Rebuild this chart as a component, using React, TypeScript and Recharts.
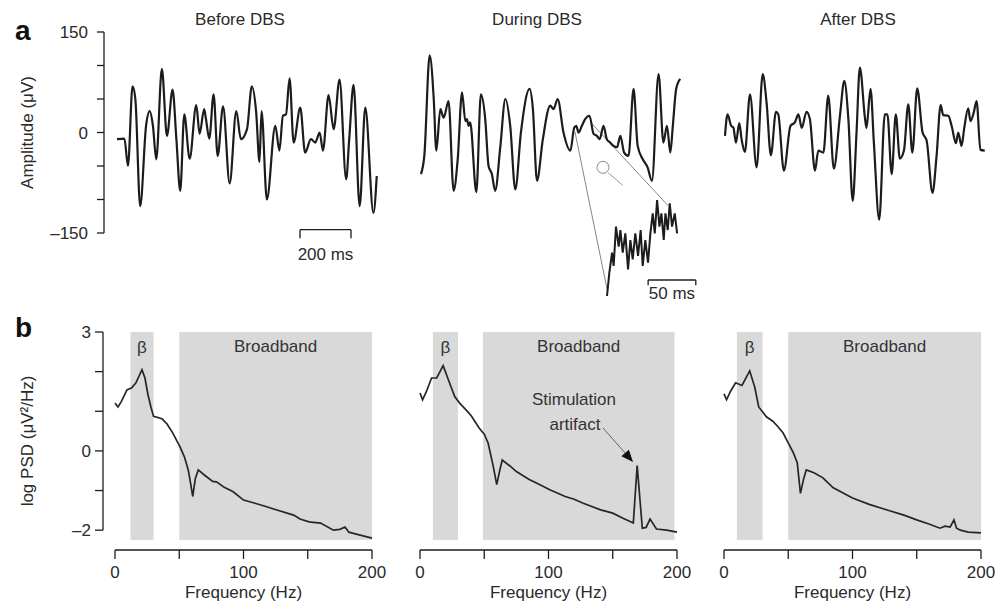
import React from 'react';
import { LineChart, Line, XAxis, YAxis, ReferenceArea, ReferenceLine, ReferenceDot } from 'recharts';

const FONT = '"Liberation Sans", Arial, Helvetica, sans-serif';
const INK = '#1c1c1c';
const TEXT = '#2a2a2a';
const SHADE = '#d9d9d9';

// raw LFP traces, [time ms, amplitude µV]
const BEFORE_DBS: [number, number][] = [
  [0, -10], [29, -9], [43, -50], [61, 69], [72, 50], [91, -110], [114, 10], [128, 32], [141, 10], [154, -40],
  [176, 95], [196, -5], [218, 64], [233, -10], [248, -87], [264, 27], [285, -39], [311, 41], [324, -2], [342, 35],
  [349, 20], [362, -9], [379, 57], [395, -35], [416, 39], [442, -76], [468, 32], [486, -10], [510, 5], [529, 69],
  [546, 30], [559, -44], [567, 32], [588, -100], [621, 10], [637, -27], [651, 25], [663, 27], [677, 81], [693, -15],
  [719, 37], [738, -30], [761, -10], [778, -15], [795, 0], [808, -27], [830, 56], [850, 5], [873, 79], [899, -70],
  [911, -10], [928, 71], [952, -110], [974, 37], [1006, -120], [1019, -65],
];

const DURING_DBS: [number, number][] = [
  [0, -62], [13, -35], [34, 115], [50, 50], [60, -27], [76, 35], [89, 22], [108, 47], [128, -87], [144, -40],
  [161, 60], [174, 17], [180, 20], [187, 10], [193, 15], [217, -89], [235, 57], [252, 20], [265, -50], [278, -62],
  [291, -87], [311, -22], [331, 50], [350, 10], [370, -85], [392, 0], [426, 65], [439, 35], [455, -72], [478, -10],
  [507, 40], [520, 35], [536, 50], [559, 0], [586, -27], [601, 7], [609, 10], [618, 0], [631, 10], [644, 20],
  [661, 25], [677, -2], [690, -5], [701, -10], [716, 10], [729, -10], [742, -15], [755, -20], [769, -22], [782, -5],
  [797, -30], [814, -35], [834, 65], [850, -20], [870, -40], [889, -52], [906, -72], [932, 87], [951, -15], [965, 10],
  [978, -30], [988, 10], [1001, 65], [1017, 80],
];

const AFTER_DBS: [number, number][] = [
  [0, -5], [10, 27], [24, 10], [33, 7], [43, -15], [56, 14], [65, -10], [78, -29], [98, 57], [124, -52],
  [148, 87], [163, 45], [180, -34], [200, 31], [209, 27], [231, -57], [257, 10], [274, 15], [288, 27], [301, 7],
  [320, 31], [333, 20], [353, -57], [366, -27], [386, -30], [405, 55], [427, -54], [451, 25], [468, 77], [484, 20],
  [501, -102], [516, 0], [529, 97], [549, 22], [555, 7], [571, 65], [584, -15], [605, -130], [627, 27], [637, 27],
  [654, -62], [670, 27], [686, -39], [702, -27], [719, 42], [735, -30], [754, 66], [775, 0], [791, -12], [814, -90],
  [830, -35], [846, 41], [856, 26], [876, 25], [889, 10], [906, -16], [915, 0], [928, -20], [938, 5], [954, 36],
  [963, 17], [976, 30], [987, 47], [1002, -26], [1019, -27],
];

// zoomed inset of the stimulation period, [time ms, µV]
const DURING_ZOOM: [number, number][] = [
  [0, -72], [2.5, -37], [5.4, -7], [7.1, -27], [9.6, 32], [12.5, 2], [14.3, 27], [16.8, -7], [19.6, 22], [22.5, -32],
  [25, 12], [27.5, -17], [30.3, 22], [33.2, -12], [36, 27], [38.2, -27], [41, 12], [43.9, -22], [46.4, 22], [48.9, 52],
  [51.1, 22], [53.6, 72], [56.1, 32], [58.2, 52], [60.7, 12], [62.5, 52], [65, 27], [67.1, 67], [69.6, 32], [72.5, 52],
  [75, 22],
];

// power spectra, [frequency Hz, log PSD]
const PSD_BEFORE: [number, number][] = [
  [0, 1.21], [2.3, 1.11], [5, 1.25], [9.3, 1.54], [13, 1.59], [16.3, 1.72], [21, 2.05], [23.3, 1.84], [25.7, 1.41],
  [28, 1.1], [30, 0.87], [36.6, 0.81], [40.5, 0.68], [45, 0.45], [50.6, 0.1], [54, -0.15], [57, -0.48], [59, -0.85],
  [60.5, -1.15], [62.5, -0.7], [64.8, -0.48], [70, -0.62], [76, -0.77], [79, -0.78], [85, -0.92], [92, -1.03],
  [100, -1.24], [109, -1.32], [118, -1.41], [126, -1.49], [139, -1.62], [144, -1.72], [151, -1.79], [160, -1.82],
  [170, -2.0], [175, -1.98], [179, -1.92], [182, -2.05], [190, -2.12], [200, -2.2],
];

const PSD_DURING: [number, number][] = [
  [0, 1.46], [2, 1.29], [5, 1.5], [9, 1.84], [13, 1.84], [18, 2.15], [22, 1.8], [27, 1.37], [31, 1.2], [36, 1.03],
  [40, 0.88], [46, 0.58], [50, 0.42], [53, 0.2], [57, -0.39], [59.7, -0.85], [62, -0.5], [64, -0.23], [70, -0.38],
  [75, -0.52], [85, -0.72], [93, -0.85], [101, -0.98], [113, -1.15], [120, -1.22], [127, -1.32], [140, -1.48],
  [150, -1.57], [158, -1.7], [166, -1.82], [169, -0.37], [173, -1.95], [176, -1.93], [179, -1.72], [184, -1.97],
  [192, -2.0], [200, -2.05],
];

const PSD_AFTER: [number, number][] = [
  [0, 1.44], [2, 1.29], [5, 1.5], [9, 1.72], [14, 1.65], [20, 2.02], [24, 1.6], [27, 1.11], [33, 0.86], [38, 0.75],
  [42, 0.61], [46, 0.45], [50, 0.2], [54, -0.05], [57, -0.3], [59.5, -1.07], [62, -0.7], [64, -0.48], [70, -0.55],
  [77, -0.68], [85, -0.93], [92, -1.05], [100, -1.19], [113, -1.35], [127, -1.49], [140, -1.62], [150, -1.74],
  [160, -1.85], [168, -1.95], [172, -1.9], [176, -1.92], [179, -1.74], [181, -1.95], [184, -2.0], [190, -2.05],
  [200, -2.07],
];

const TITLES = ['Before DBS', 'During DBS', 'After DBS'];
const BETA_BANDS: [number, number][] = [[12, 30], [10, 29.5], [10, 30]];
const BROAD_BANDS: [number, number][] = [[50, 200], [49, 198], [50, 200]];
const AMP_TICKS = [-150, -100, -50, 0, 50, 100, 150];
const PSD_TICKS = [-2, -1, 0, 1, 2, 3];
const FREQ_TICKS = [0, 50, 100, 150, 200];

const TIME_DOMAIN: [number, number] = [-51, 1071];
const AMP_DOMAIN: [number, number] = [-150, 150];
const FREQ_DOMAIN: [number, number] = [-9.34, 209.34];
const PSD_DOMAIN: [number, number] = [-2.5, 3];
const SHADE_BOTTOM = -2.25;

const toRows = (pts: [number, number][]) => pts.map(([x, y]) => ({ x, y }));
const dash = (v: number) => (v < 0 ? `\u2013${Math.abs(v)}` : String(v));

const axisStroke = { stroke: INK, strokeWidth: 1.3 };
const tickText = { fill: TEXT, fontSize: 17 };

const Arrow = (p: any) => {
  const { x1, y1, x2, y2 } = p;
  const a = Math.atan2(y2 - y1, x2 - x1);
  const L = 12;
  const W = 5;
  const bx = x2 - L * Math.cos(a);
  const by = y2 - L * Math.sin(a);
  const pts = `${x2},${y2} ${bx - W * Math.sin(a)},${by + W * Math.cos(a)} ${bx + W * Math.sin(a)},${by - W * Math.cos(a)}`;
  return (
    <g>
      <line x1={x1} y1={y1} x2={bx} y2={by} stroke="#666" strokeWidth={1} />
      <polygon points={pts} fill="#111" />
    </g>
  );
};

interface TraceProps {
  data: [number, number][];
  left: number;
  width: number;
  margin: { left: number; right: number };
  axis?: boolean;
  children?: React.ReactNode;
}

function TraceChart({ data, left, width, margin, axis, children }: TraceProps) {
  return (
    <div style={{ position: 'absolute', left, top: 0 }}>
      <LineChart
        width={width}
        height={310}
        data={toRows(data)}
        margin={{ top: 32, right: margin.right, bottom: 77, left: margin.left }}
      >
        <XAxis dataKey="x" type="number" domain={TIME_DOMAIN} allowDataOverflow hide />
        {axis ? (
          <YAxis
            domain={AMP_DOMAIN}
            allowDataOverflow
            ticks={AMP_TICKS}
            interval={0}
            width={82}
            tickFormatter={(v: number) => (v === 0 || Math.abs(v) === 150 ? dash(v) : '')}
            tick={tickText}
            tickSize={7}
            tickMargin={9}
            axisLine={axisStroke}
            tickLine={axisStroke}
            label={{
              value: 'Amplitude (\u03bcV)',
              angle: -90,
              position: 'insideLeft',
              offset: 5,
              fill: TEXT,
              fontSize: 17,
              style: { textAnchor: 'middle' },
            }}
          />
        ) : (
          <YAxis hide domain={AMP_DOMAIN} allowDataOverflow />
        )}
        {children}
        <Line
          type="monotone"
          dataKey="y"
          stroke={INK}
          strokeWidth={2.2}
          dot={false}
          activeDot={false}
          isAnimationActive={false}
        />
      </LineChart>
    </div>
  );
}

interface PsdProps {
  data: [number, number][];
  left: number;
  width: number;
  margin: { left: number; right: number };
  band: number;
  axis?: boolean;
  children?: React.ReactNode;
}

function PsdChart({ data, left, width, margin, band, axis, children }: PsdProps) {
  const beta = BETA_BANDS[band];
  const broad = BROAD_BANDS[band];
  return (
    <div style={{ position: 'absolute', left, top: 300 }}>
      <LineChart
        width={width}
        height={310}
        data={toRows(data)}
        margin={{ top: 32, right: margin.right, bottom: 0, left: margin.left }}
      >
        <XAxis
          dataKey="x"
          type="number"
          domain={FREQ_DOMAIN}
          allowDataOverflow
          ticks={FREQ_TICKS}
          interval={0}
          height={60}
          tickFormatter={(v: number) => (v % 100 === 0 ? String(v) : '')}
          axisLine={false}
          tickLine={axisStroke}
          tickSize={9}
          tickMargin={7}
          tick={tickText}
          label={{ value: 'Frequency (Hz)', position: 'insideBottom', offset: 12, fill: TEXT, fontSize: 17 }}
        />
        {axis ? (
          <YAxis
            domain={PSD_DOMAIN}
            allowDataOverflow
            ticks={PSD_TICKS}
            interval={0}
            width={81}
            tickFormatter={(v: number) => (v === 3 || v === 0 || v === -2 ? dash(v) : '')}
            tick={tickText}
            tickSize={8}
            tickMargin={4}
            axisLine={false}
            tickLine={axisStroke}
            label={{
              value: 'log PSD (\u03bcV\u00b2/Hz)',
              angle: -90,
              position: 'insideLeft',
              offset: 5,
              fill: TEXT,
              fontSize: 17,
              style: { textAnchor: 'middle' },
            }}
          />
        ) : (
          <YAxis hide domain={PSD_DOMAIN} allowDataOverflow />
        )}
        <ReferenceArea
          x1={beta[0]}
          x2={beta[1]}
          y1={SHADE_BOTTOM}
          y2={3}
          fill={SHADE}
          fillOpacity={1}
          stroke="none"
          label={{ value: '\u03b2', position: 'insideTop', offset: 9, fill: '#333', fontSize: 17 }}
        />
        <ReferenceArea
          x1={broad[0]}
          x2={broad[1]}
          y1={SHADE_BOTTOM}
          y2={3}
          fill={SHADE}
          fillOpacity={1}
          stroke="none"
          label={{ value: 'Broadband', position: 'insideTop', offset: 8, fill: '#333', fontSize: 17 }}
        />
        <ReferenceLine
          segment={[{ x: 0, y: PSD_DOMAIN[0] }, { x: 200, y: PSD_DOMAIN[0] }]}
          {...axisStroke}
          ifOverflow="visible"
        />
        {axis && (
          <ReferenceLine
            segment={[{ x: FREQ_DOMAIN[0], y: -2 }, { x: FREQ_DOMAIN[0], y: 3 }]}
            {...axisStroke}
            ifOverflow="visible"
          />
        )}
        {children}
        <Line
          type="linear"
          dataKey="y"
          stroke="#262626"
          strokeWidth={1.7}
          dot={false}
          activeDot={false}
          isAnimationActive={false}
        />
      </LineChart>
    </div>
  );
}

const scaleBar = (x0: number, x1: number, y: number, tick: number, text: string, offset: number) => [
  <ReferenceLine
    key="h"
    segment={[{ x: x0, y }, { x: x1, y }]}
    {...axisStroke}
    ifOverflow="visible"
    label={{ value: text, position: 'bottom', offset, fill: TEXT, fontSize: 17 }}
  />,
  <ReferenceLine key="l" segment={[{ x: x0, y }, { x: x0, y: tick }]} {...axisStroke} ifOverflow="visible" />,
  <ReferenceLine key="r" segment={[{ x: x1, y }, { x: x1, y: tick }]} {...axisStroke} ifOverflow="visible" />,
];

export default function App() {
  return (
    <div
      style={{
        position: 'absolute',
        left: 0,
        top: 0,
        width: 1000,
        height: 610,
        background: '#fff',
        fontFamily: FONT,
        overflow: 'hidden',
      }}
    >
      <svg width={1000} height={610} style={{ position: 'absolute', left: 0, top: 0 }}>
        {TITLES.map((t, i) => (
          <text key={t} x={[240, 537, 858][i]} y={25} textAnchor="middle" fontSize={17} fill={TEXT}>
            {t}
          </text>
        ))}
        <text x={15} y={40} fontSize={28} fontWeight="bold" fill="#111">
          a
        </text>
        <text x={15} y={337} fontSize={28} fontWeight="bold" fill="#111">
          b
        </text>
      </svg>

      <TraceChart data={BEFORE_DBS} left={0} width={400} margin={{ left: 22, right: 10 }} axis>
        {scaleBar(718, 918, -145, -158, '200 ms', 18)}
      </TraceChart>

      <TraceChart data={DURING_DBS} left={400} width={300} margin={{ left: 8, right: 6 }}>
        <ReferenceLine
          segment={[{ x: 604, y: 1 }, { x: 730, y: -234 }]}
          stroke="#777"
          strokeWidth={0.9}
          ifOverflow="visible"
        />
        <ReferenceLine
          segment={[{ x: 671, y: 13 }, { x: 969, y: -109 }]}
          stroke="#777"
          strokeWidth={0.9}
          ifOverflow="visible"
        />
        <ReferenceDot x={714} y={-52} r={6} fill="none" stroke="#8a8a8a" strokeWidth={1} />
        <ReferenceLine
          segment={[{ x: 734, y: -60 }, { x: 792, y: -79 }]}
          stroke="#9a9a9a"
          strokeWidth={1}
          ifOverflow="visible"
        />
      </TraceChart>

      <TraceChart data={AFTER_DBS} left={700} width={300} margin={{ left: 12, right: 2 }} />

      <PsdChart data={PSD_BEFORE} left={0} width={400} margin={{ left: 22, right: 16 }} band={0} axis />

      <PsdChart data={PSD_DURING} left={400} width={300} margin={{ left: 8, right: 11 }} band={1}>
        <ReferenceDot
          x={119.8}
          y={1.31}
          r={0}
          fill="none"
          stroke="none"
          label={{ value: 'Stimulation', position: 'center', fill: '#333', fontSize: 17 }}
        />
        <ReferenceDot
          x={120.6}
          y={0.68}
          r={0}
          fill="none"
          stroke="none"
          label={{ value: 'artifact', position: 'center', fill: '#333', fontSize: 17 }}
        />
        <ReferenceLine segment={[{ x: 142.4, y: 0.58 }, { x: 165.8, y: -0.28 }]} shape={Arrow} />
      </PsdChart>

      <PsdChart data={PSD_AFTER} left={700} width={300} margin={{ left: 12, right: 7 }} band={2} />

      <div style={{ position: 'absolute', left: 590, top: 180 }}>
        <LineChart
          width={120}
          height={135}
          data={toRows(DURING_ZOOM)}
          margin={{ top: 8, right: 10, bottom: 7, left: 10 }}
        >
          <XAxis dataKey="x" type="number" domain={[-7.5, 99.5]} allowDataOverflow hide />
          <YAxis hide domain={[-90, 90]} allowDataOverflow />
          {scaleBar(44, 95, -48, -56, '50 ms', 7)}
          <Line
            type="linear"
            dataKey="y"
            stroke={INK}
            strokeWidth={2}
            dot={false}
            activeDot={false}
            isAnimationActive={false}
          />
        </LineChart>
      </div>
    </div>
  );
}
